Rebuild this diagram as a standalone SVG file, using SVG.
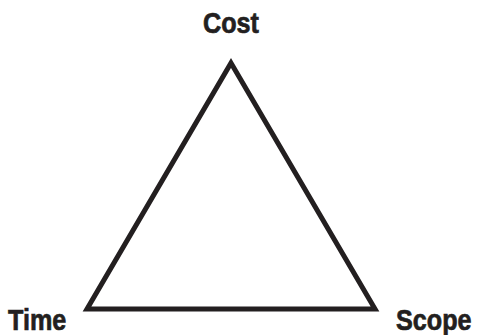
<svg xmlns="http://www.w3.org/2000/svg" width="477" height="335" viewBox="0 0 477 335">
<style>
.lbl{font-family:"Liberation Sans",Arial,sans-serif;font-weight:bold;font-size:30px;fill:#231f20;stroke:#231f20;stroke-width:0.7}
.edge{fill:none;stroke:#231f20;stroke-width:5;stroke-linejoin:miter}
</style>
<rect width="477" height="335" fill="#fff"/>
<g id="connectors">
<polygon class="edge" points="231,63 375,309 87,309"/>
</g>
<g id="cost"><text class="lbl" transform="translate(203,33) scale(0.84,1)">Cost</text></g>
<g id="time"><text class="lbl" transform="translate(8,330) scale(0.84,1)">Time</text></g>
<g id="scope"><text class="lbl" transform="translate(396,330) scale(0.84,1)">Scope</text></g>
</svg>
